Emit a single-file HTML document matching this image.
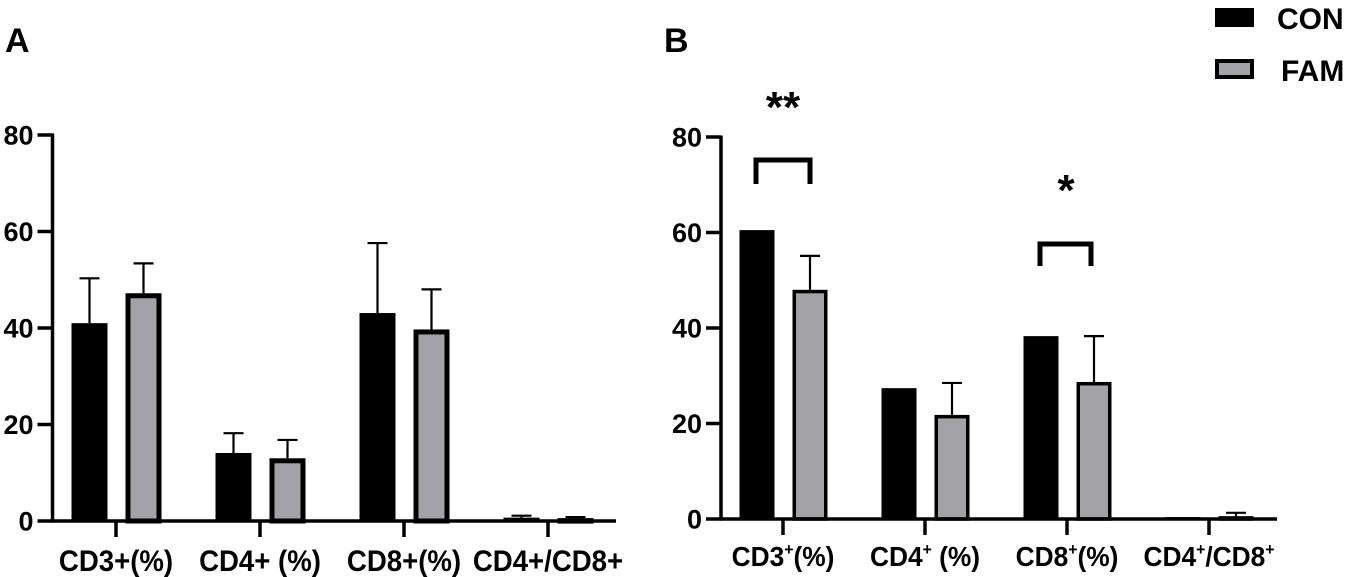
<!DOCTYPE html>
<html><head><meta charset="utf-8"><style>
html,body{margin:0;padding:0;background:#fff;}
svg{display:block;font-family:"Liberation Sans",Arial,sans-serif;font-weight:bold;}
</style></head><body>
<svg id="fig" width="1355" height="577" viewBox="0 0 1355 577">
<text x="5" y="52" font-size="34">A</text>
<text x="664" y="52" font-size="34">B</text>
<g>
<rect x="1215" y="8" width="39" height="19" fill="#000"/>
<text x="1277" y="29" font-size="30">CON</text>
<rect x="1217" y="61" width="35" height="16" fill="#a3a3a7" stroke="#000" stroke-width="4"/>
<text x="1281" y="81" font-size="30">FAM</text>
</g>
</svg>
<script>
const yTicks = [0, 20, 40, 60, 80];
const catsA = ["CD3+(%)", "CD4+ (%)", "CD8+(%)", "CD4+/CD8+"];
const conA = [41.0, 14.1, 43.1, 0.7];
const conErrA = [50.3, 18.2, 57.6, 1.1];
const famA = [47.2, 13.0, 39.7, 0.6];
const famErrA = [53.4, 16.8, 48.0, 0.8];
const catsB = [["CD3","(%)"], ["CD4"," (%)"], ["CD8","(%)"], ["CD4","/CD8"]];
const conB = [60.5, 27.4, 38.3, 0.4];
const conErrB = [null, null, null, null];
const famB = [48.0, 21.8, 28.7, 0.6];
const famErrB = [55.1, 28.5, 38.3, 1.3];

const NS = "http://www.w3.org/2000/svg";
const svg = document.getElementById('fig');
function mk(tag, attrs, parent){
  const e = document.createElementNS(NS, tag);
  for (const k in attrs) e.setAttribute(k, attrs[k]);
  (parent||svg).appendChild(e); return e;
}
function panel(cfg){
  const g = mk('g', {});
  
  
  const y = v => cfg.y0 - v * (cfg.y0 - cfg.y80) / 80;
  const x = i => cfg.t0 + i * cfg.step;
  cfg.con.forEach((v, i) => {
    const r = mk('rect', {x: x(i) + cfg.offC - cfg.w/2, y: y(v), width: cfg.w, height: cfg.y0 - y(v), fill: '#000'}, g);
    
    
    if (cfg.conErr[i] != null) errbar(g, x(i) + cfg.offC, y(v), y(cfg.conErr[i]), 'error-con-' + i);
  });
  cfg.fam.forEach((v, i) => {
    const sw = cfg.famStroke;
    const h = Math.max(cfg.y0 - y(v) - sw/2, 0.5);
    const r = mk('rect', {x: x(i) + cfg.offF - cfg.w/2 + sw/2, y: y(v) + sw/2, width: cfg.w - sw, height: h, fill: '#a3a3a7', stroke: '#000', 'stroke-width': sw}, g);
    
    
    if (cfg.famErr[i] != null) errbar(g, x(i) + cfg.offF, y(v), y(cfg.famErr[i]), 'error-fam-' + i);
  });
  const ya = mk('line', {x1: cfg.ax, y1: cfg.y80 - 1.5, x2: cfg.ax, y2: cfg.y0, stroke: '#000', 'stroke-width': 3.5}, g);
  
  
  const xa = mk('line', {x1: cfg.ax - 1.5, y1: cfg.y0, x2: cfg.axEnd, y2: cfg.y0, stroke: '#000', 'stroke-width': 3.5}, g);
  
  
  yTicks.forEach(t => {
    mk('line', {x1: cfg.ax - 15, y1: y(t), x2: cfg.ax, y2: y(t), stroke: '#000', 'stroke-width': 3.5}, g);
    const tx = mk('text', {x: cfg.ax - 19, y: y(t) + 9.5, 'font-size': 27, 'text-anchor': 'end'}, g);
    tx.textContent = t;
    
    
  });
  cfg.cats.forEach((c, i) => {
    mk('line', {x1: x(i), y1: cfg.y0, x2: x(i), y2: cfg.y0 + 16, stroke: '#000', 'stroke-width': 3.5}, g);
    const tx = mk('text', {x: 0, y: 0, 'font-size': cfg.labSize, 'text-anchor': 'middle',
      transform: `translate(${x(i)},${cfg.labY}) scale(${cfg.labScale},1)`}, g);
    
    
    if (Array.isArray(c)) {
      const parts = [c[0], '+', c[1], '+'];
      parts.forEach((p, k) => {
        if (k === 3 && c[1].indexOf('/') < 0) return;
        const s = mk('tspan', {}, tx);
        if (p === '+') { s.setAttribute('font-size', cfg.labSize * 0.6); s.setAttribute('dy', -11); }
        else if (k === 2) { s.setAttribute('dy', 11); }
        s.textContent = p;
      });
    } else tx.textContent = c;
  });
  return {x, y, g};
}
function errbar(g, cx, yTop, yErr, name){
  const e = mk('path', {d: `M${cx},${yTop} V${yErr} M${cx-10},${yErr} H${cx+10}`, stroke: '#000', 'stroke-width': 2.2, fill: 'none'}, g);
  
  
}
panel({name: 'panel-a-chart', cats: catsA, con: conA, conErr: conErrA, fam: famA, famErr: famErrA,
  ax: 52.5, axEnd: 616, y0: 521, y80: 135, t0: 116, step: 144, w: 36, offC: -26.5, offF: 27.5, famStroke: 5,
  labY: 571, labSize: 30, labScale: 0.92});
panel({name: 'panel-b-chart', cats: catsB, con: conB, conErr: conErrB, fam: famB, famErr: famErrB,
  ax: 721, axEnd: 1277, y0: 519, y80: 137, t0: 783, step: 142, w: 35, offC: -26, offF: 27, famStroke: 3.5,
  labY: 566, labSize: 28, labScale: 0.94});
const br1 = mk('path', {d: 'M756,184 V160 H810 V184', stroke: '#000', 'stroke-width': 5, fill: 'none'});


const br2 = mk('path', {d: 'M1040,266 V244 H1091 V266', stroke: '#000', 'stroke-width': 5, fill: 'none'});


const s1 = mk('text', {x: 783, y: 122, 'font-size': 44, 'text-anchor': 'middle'});
s1.textContent = '**';


const s2 = mk('text', {x: 1066, y: 205, 'font-size': 44, 'text-anchor': 'middle'});
s2.textContent = '*';


</script>
</body></html>
